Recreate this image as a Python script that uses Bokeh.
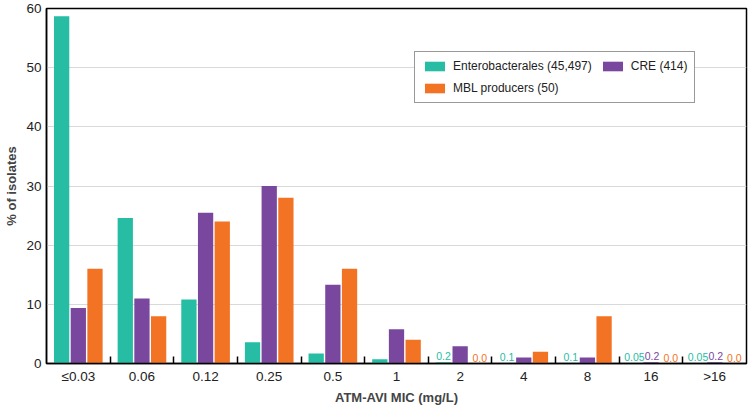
import numpy as np
from bokeh.plotting import figure
from bokeh.models import ColumnDataSource, FixedTicker, Legend, LegendItem, Range1d
from bokeh.core.properties import value
from bokeh.embed import file_html
from bokeh.resources import INLINE

categories = ["≤0.03", "0.06", "0.12", "0.25", "0.5", "1", "2", "4", "8", "16", ">16"]
entero = [58.7, 24.6, 10.8, 3.6, 1.7, 0.7, 0.2, 0.1, 0.1, 0.05, 0.05]
cre = [9.4, 11.0, 25.5, 30.0, 13.3, 5.8, 2.9, 1.0, 1.0, 0.2, 0.2]
mbl = [16.0, 8.0, 24.0, 28.0, 16.0, 4.0, 0.0, 2.0, 8.0, 0.0, 0.0]
entero_lbl = ["", "", "", "", "", "", "0.2", "0.1", "0.1", "0.05", "0.05"]
cre_lbl = ["", "", "", "", "", "", "", "", "", "0.2", "0.2"]
mbl_lbl = ["", "", "", "", "", "", "0.0", "", "", "0.0", "0.0"]
series_names = ["Enterobacterales (45,497)", "CRE (414)", "MBL producers (50)"]
colors = ["#26BDA4", "#7A479E", "#F37325"]
y_ticks = [0, 10, 20, 30, 40, 50, 60]

FONT = "Liberation Sans"

p = figure(width=750, height=408, output_backend="svg", toolbar_location=None,
           x_range=Range1d(0, len(categories)), y_range=Range1d(0, 60),
           min_border_left=46, min_border_right=4, min_border_top=8, min_border_bottom=45)

centers = np.arange(len(categories)) + 0.5
offsets = [-0.262, 0.0, 0.262]
label_dx = [0, 1, 3]
renderers = []
for vals, lbls, off, col, dx in zip([entero, cre, mbl], [entero_lbl, cre_lbl, mbl_lbl],
                                    offsets, colors, label_dx):
    src = ColumnDataSource(dict(x=centers + off, top=vals, lbl=lbls))
    r = p.vbar(x="x", top="top", width=0.24, bottom=0, source=src,
               fill_color=col, line_color=None)
    renderers.append(r)
    p.text(x="x", y="top", text="lbl", source=src, text_color=col,
           text_font=value(FONT), text_font_size="10.5px", text_align="center",
           text_baseline="bottom", y_offset=-2, x_offset=dx)

# axes
ticker = FixedTicker(ticks=list(centers), minor_ticks=list(range(1, len(categories))))
p.xaxis.ticker = ticker
p.xaxis.major_label_overrides = {float(c): cat for c, cat in zip(centers, categories)}
p.xaxis.major_tick_line_color = None
p.xaxis.major_tick_in = 0
p.xaxis.major_tick_out = 0
p.xaxis.minor_tick_in = 7
p.xaxis.minor_tick_out = 0
p.xaxis.minor_tick_line_color = "black"
p.xaxis.minor_tick_line_width = 1.5
p.xaxis.axis_line_width = 1.5
p.xaxis.axis_line_color = "black"
p.xaxis.major_label_text_font = FONT
p.xaxis.major_label_text_font_size = "13.5px"
p.xaxis.major_label_text_color = "#222222"
p.xaxis.major_label_standoff = 5
p.xaxis.axis_label = "ATM-AVI MIC (mg/L)"
p.xaxis.axis_label_text_font = FONT
p.xaxis.axis_label_text_font_style = "bold"
p.xaxis.axis_label_text_font_size = "13px"
p.xaxis.axis_label_standoff = 3

p.yaxis.ticker = FixedTicker(ticks=y_ticks)
p.yaxis.major_tick_line_color = None
p.yaxis.major_tick_in = 0
p.yaxis.major_tick_out = 0
p.yaxis.minor_tick_line_color = None
p.yaxis.minor_tick_in = 0
p.yaxis.minor_tick_out = 0
p.yaxis.axis_line_width = 1.5
p.yaxis.axis_line_color = "black"
p.yaxis.major_label_text_font = FONT
p.yaxis.major_label_text_font_size = "13.5px"
p.yaxis.major_label_text_color = "#222222"
p.yaxis.major_label_standoff = 5
p.yaxis.axis_label = "% of isolates"
p.yaxis.axis_label_text_font = FONT
p.yaxis.axis_label_text_font_style = "bold"
p.yaxis.axis_label_text_font_size = "13px"
p.yaxis.axis_label_standoff = 4

p.xgrid.grid_line_color = None
p.ygrid.ticker = FixedTicker(ticks=y_ticks[1:-1])
p.ygrid.grid_line_color = "#D9D9D9"
p.ygrid.grid_line_width = 1.2

p.outline_line_color = "black"
p.outline_line_width = 1.5
p.background_fill_color = "white"
p.border_fill_color = "white"

items = [LegendItem(label=n, renderers=[r]) for n, r in zip(series_names, renderers)]
legend = Legend(items=items, location=(368, 260), orientation="horizontal", ncols=2,
                label_text_font=FONT, label_text_font_size="12px", label_text_color="#222222",
                glyph_width=25, glyph_height=12, label_height=14, label_standoff=6,
                spacing=8, padding=7, margin=0,
                border_line_color="#333333", border_line_width=1,
                background_fill_alpha=1.0)
p.add_layout(legend, "center")

open("out.html", "w").write(file_html(p, INLINE))
